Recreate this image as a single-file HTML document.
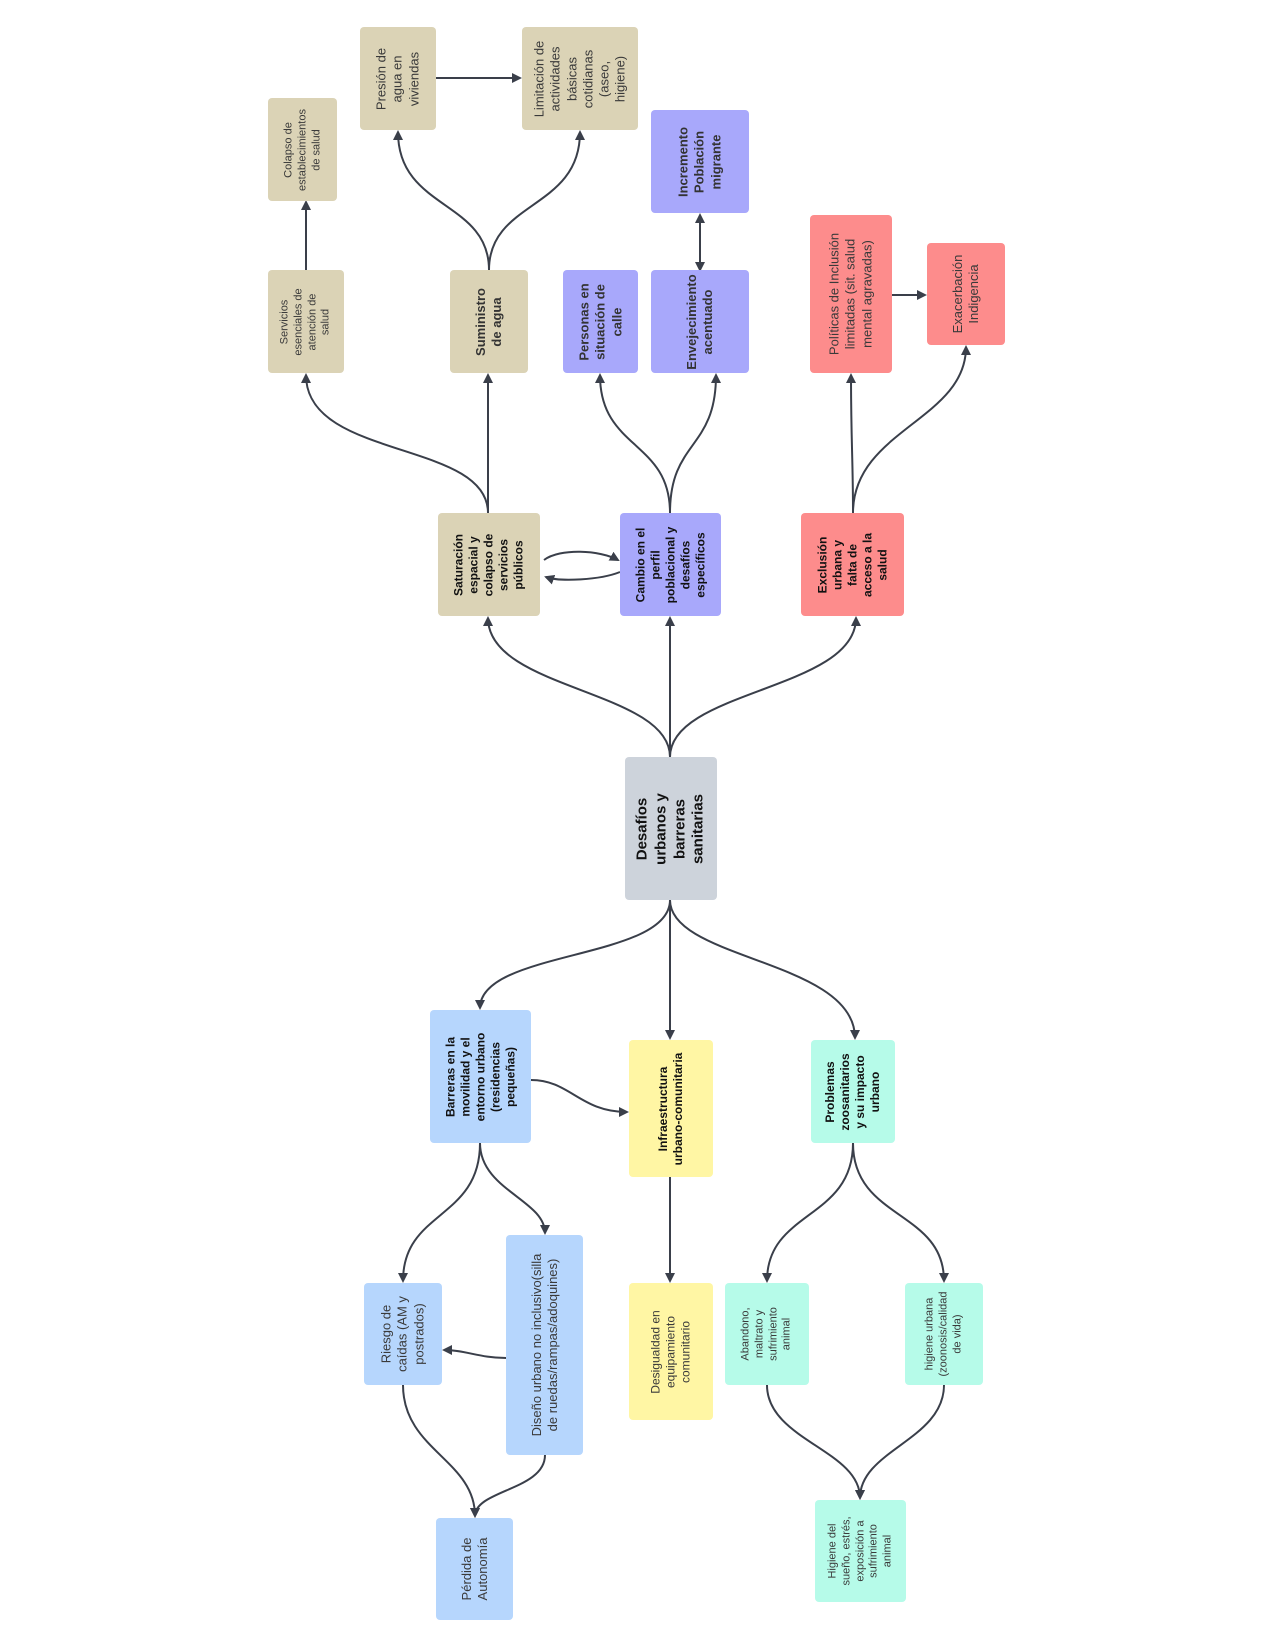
<!DOCTYPE html>
<html><head><meta charset="utf-8"><style>
body{margin:0;background:#fff;width:1275px;height:1650px;position:relative;overflow:hidden;font-family:"Liberation Sans",Arial,sans-serif;}
.b{position:absolute;border-radius:4px;}
.t{position:absolute;left:50%;top:50%;transform:translate(-50%,-50%) rotate(-90deg);text-align:center;color:#3a3a3a;line-height:1.25;white-space:nowrap;}
.bd{font-weight:bold;color:#111;}
.tan{background:#dbd3b6}.pu{background:#a8a8fb}.rd{background:#fd8c8c}.gr{background:#cdd3db}.bl{background:#b6d6fd}.ye{background:#fff6a4}.te{background:#b6fbe9}
svg{position:absolute;left:0;top:0}
</style></head><body>
<svg width="1275" height="1650" viewBox="0 0 1275 1650">
<defs><marker id="a" markerWidth="10" markerHeight="10" refX="8" refY="5" orient="auto" markerUnits="userSpaceOnUse"><path d="M0,0 L10,5 L0,10 z" fill="#3a3f4a"/></marker>
<marker id="s" markerWidth="10" markerHeight="10" refX="2" refY="5" orient="auto" markerUnits="userSpaceOnUse"><path d="M10,0 L0,5 L10,10 z" fill="#3a3f4a"/></marker></defs>
<g fill="none" stroke="#3a3f4a" stroke-width="2" marker-end="url(#a)">
<path d="M670,757 C670,690 488,690 488,618"/>
<path d="M670,757 L670,618"/>
<path d="M670,757 C670,690 856,690 856,618"/>
<path d="M488,513 C488,440 306,460 306,375"/>
<path d="M488,513 L488,375"/>
<path d="M306,270 L306,202"/>
<path d="M489,270 C489,200 398,210 398,132"/>
<path d="M489,270 C489,200 580,210 580,132"/>
<path d="M436,78 L520,78"/>
<path d="M670,513 C670,440 600,450 600,375"/>
<path d="M670,513 C670,440 716,450 716,375"/>
<path d="M700,270 L700,215" marker-start="url(#s)"/>
<path d="M853,513 C853,460 851,440 851,375"/>
<path d="M853,513 C853,430 966,420 966,347"/>
<path d="M892,295 L925,295"/>
<path d="M544,560 C560,548 600,550 618,560"/>
<path d="M620,572 C600,580 560,582 546,577"/>
<path d="M670,900 C670,960 480,950 480,1008"/>
<path d="M670,900 L670,1038"/>
<path d="M670,900 C670,960 855,960 855,1038"/>
<path d="M531,1080 C570,1080 580,1112 627,1112"/>
<path d="M480,1143 C480,1220 403,1210 403,1281"/>
<path d="M480,1143 C480,1190 545,1200 545,1233"/>
<path d="M506,1358 C480,1358 465,1350 444,1350"/>
<path d="M403,1385 C403,1450 475,1460 475,1516"/>
<path d="M545,1455 C545,1490 475,1490 475,1516"/>
<path d="M670,1177 L670,1281"/>
<path d="M853,1143 C853,1220 767,1210 767,1281"/>
<path d="M853,1143 C853,1220 944,1210 944,1281"/>
<path d="M767,1385 C767,1440 860,1450 860,1498"/>
<path d="M944,1385 C944,1440 860,1450 860,1498"/>
</g></svg>

<div class="b tan" style="left:268px;top:98px;width:69px;height:103px"><div class="t" style="font-size:11px">Colapso de<br>establecimientos<br>de salud</div></div>
<div class="b tan" style="left:268px;top:270px;width:76px;height:103px"><div class="t" style="font-size:11px">Servicios<br>esenciales de<br>atención de<br>salud</div></div>
<div class="b tan" style="left:360px;top:27px;width:76px;height:103px"><div class="t" style="font-size:13px">Presión de<br>agua en<br>viviendas</div></div>
<div class="b tan" style="left:522px;top:27px;width:116px;height:103px"><div class="t" style="font-size:13px">Limitación de<br>actividades<br>básicas<br>cotidianas<br>(aseo,<br>higiene)</div></div>
<div class="b tan" style="left:450px;top:270px;width:78px;height:103px"><div class="t bd" style="font-size:13px;color:#333">Suministro<br>de agua</div></div>
<div class="b pu" style="left:651px;top:110px;width:98px;height:103px"><div class="t bd" style="font-size:13px;color:#333">Incremento<br>Población<br>migrante</div></div>
<div class="b pu" style="left:563px;top:270px;width:75px;height:103px"><div class="t bd" style="font-size:13px;color:#333">Personas en<br>situación de<br>calle</div></div>
<div class="b pu" style="left:651px;top:270px;width:98px;height:103px"><div class="t bd" style="font-size:13px;color:#333">Envejecimiento<br>acentuado</div></div>
<div class="b rd" style="left:810px;top:215px;width:82px;height:158px"><div class="t" style="font-size:13px">Políticas de Inclusión<br>limitadas (sit. salud<br>mental agravadas)</div></div>
<div class="b rd" style="left:927px;top:243px;width:78px;height:102px"><div class="t" style="font-size:13px">Exacerbación<br>Indigencia</div></div>
<div class="b tan" style="left:438px;top:513px;width:102px;height:103px"><div class="t bd" style="font-size:12px">Saturación<br>espacial y<br>colapso de<br>servicios<br>públicos</div></div>
<div class="b pu" style="left:620px;top:513px;width:101px;height:103px"><div class="t bd" style="font-size:12px">Cambio en el<br>perfil<br>poblacional y<br>desafíos<br>específicos</div></div>
<div class="b rd" style="left:801px;top:513px;width:103px;height:103px"><div class="t bd" style="font-size:12px">Exclusión<br>urbana y<br>falta de<br>acceso a la<br>salud</div></div>
<div class="b gr" style="left:625px;top:757px;width:92px;height:143px"><div class="t bd" style="font-size:15px">Desafíos<br>urbanos y<br>barreras<br>sanitarias</div></div>
<div class="b bl" style="left:430px;top:1010px;width:101px;height:133px"><div class="t bd" style="font-size:12px">Barreras en la<br>movilidad y el<br>entorno urbano<br>(residencias<br>pequeñas)</div></div>
<div class="b ye" style="left:629px;top:1040px;width:84px;height:137px"><div class="t bd" style="font-size:12px">Infraestructura<br>urbano-comunitaria</div></div>
<div class="b te" style="left:811px;top:1040px;width:84px;height:103px"><div class="t bd" style="font-size:12px">Problemas<br>zoosanitarios<br>y su impacto<br>urbano</div></div>
<div class="b bl" style="left:364px;top:1283px;width:78px;height:102px"><div class="t" style="font-size:13px">Riesgo de<br>caídas (AM y<br>postrados)</div></div>
<div class="b bl" style="left:506px;top:1235px;width:77px;height:220px"><div class="t" style="font-size:13px">Diseño urbano no inclusivo(silla<br>de ruedas/rampas/adoquines)</div></div>
<div class="b ye" style="left:629px;top:1283px;width:84px;height:137px"><div class="t" style="font-size:12px">Desigualdad en<br>equipamiento<br>comunitario</div></div>
<div class="b te" style="left:725px;top:1283px;width:84px;height:102px"><div class="t" style="font-size:11px">Abandono,<br>maltrato y<br>sufrimiento<br>animal</div></div>
<div class="b te" style="left:905px;top:1283px;width:78px;height:102px"><div class="t" style="font-size:11px">higiene urbana<br>(zoonosis/calidad<br>de vida)</div></div>
<div class="b bl" style="left:436px;top:1518px;width:77px;height:102px"><div class="t" style="font-size:13px">Pérdida de<br>Autonomía</div></div>
<div class="b te" style="left:815px;top:1500px;width:91px;height:102px"><div class="t" style="font-size:11px">Higiene del<br>sueño, estrés,<br>exposición a<br>sufrimiento<br>animal</div></div>
</body></html>
